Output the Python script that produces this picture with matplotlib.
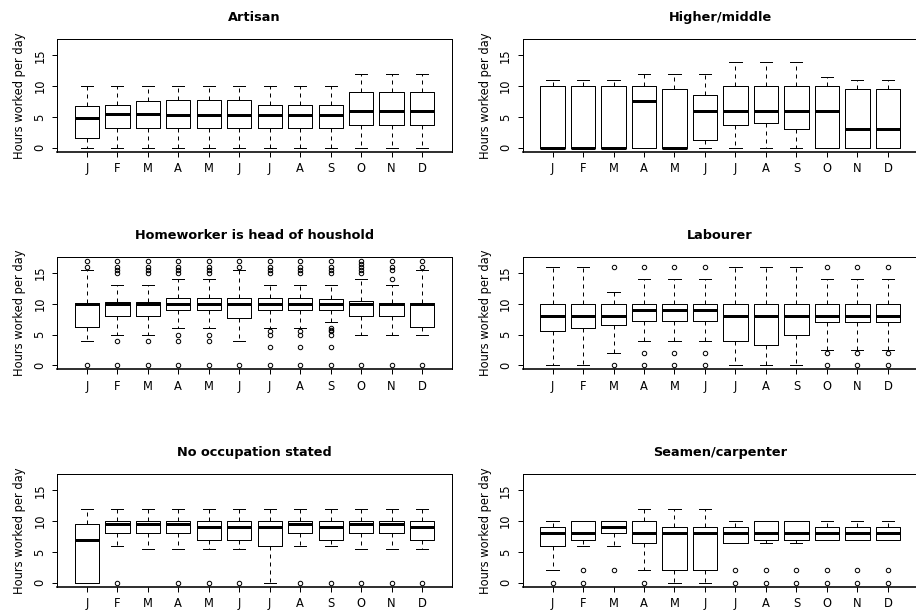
import matplotlib
matplotlib.use("Agg")
import matplotlib.pyplot as plt

plt.rcParams["font.family"] = ["DejaVu Sans"]

months = ["J", "F", "M", "A", "M", "J", "J", "A", "S", "O", "N", "D"]
ylabel = "Hours worked per day"

# ---- Artisan ----
artisan_title = "Artisan"
artisan_lo = [0, 0, 0, 0, 0, 0, 0, 0, 0, 0, 0, 0]
artisan_q1 = [1.5, 3.25, 3.25, 3.25, 3.25, 3.25, 3.25, 3.25, 3.25, 3.75, 3.75, 3.75]
artisan_med = [4.75, 5.5, 5.5, 5.25, 5.25, 5.25, 5.25, 5.25, 5.25, 6, 6, 6]
artisan_q3 = [6.75, 7, 7.5, 7.75, 7.75, 7.75, 7, 7, 7, 9, 9, 9]
artisan_hi = [10, 10, 10, 10, 10, 10, 10, 10, 10, 12, 12, 12]
artisan_out = [[], [], [], [], [], [], [], [], [], [], [], []]

# ---- Higher/middle ----
higher_title = "Higher/middle"
higher_lo = [0, 0, 0, 0, 0, 0, 0, 0, 0, 0, 0, 0]
higher_q1 = [0, 0, 0, 0, 0, 1.25, 3.75, 4, 3, 0, 0, 0]
higher_med = [0, 0, 0, 7.5, 0, 6, 6, 6, 6, 6, 3, 3]
higher_q3 = [10, 10, 10, 10, 9.5, 8.5, 10, 10, 10, 10, 9.5, 9.5]
higher_hi = [11, 11, 11, 12, 12, 12, 14, 14, 14, 11.5, 11, 11]
higher_out = [[], [], [], [], [], [], [], [], [], [], [], []]

# ---- Homeworker is head of household ----
home_title = "Homeworker is head of houshold"
home_lo = [4, 5, 5, 6, 6, 4, 6, 6, 7, 5, 5, 5]
home_q1 = [6.25, 8, 8, 9, 9, 7.75, 9, 9, 9, 8, 8, 6.25]
home_med = [10, 10, 10, 10, 10, 10, 10, 10, 10, 10, 10, 10]
home_q3 = [10.2, 10.25, 10.25, 11, 11, 11, 11, 11, 10.75, 10.5, 10.2, 10.2]
home_hi = [15.5, 13, 13, 14, 14, 15.5, 13, 13, 13, 14, 13, 15.5]
home_out = [
    [0, 16, 17],
    [0, 4, 15, 15.5, 16, 17],
    [0, 4, 15, 15.5, 16, 17],
    [0, 4, 5, 15, 15.5, 16, 17],
    [0, 4, 5, 15, 15.5, 16, 17],
    [0, 16, 17],
    [0, 3, 5, 5.5, 15, 15.5, 16, 17],
    [0, 3, 5, 5.5, 15, 15.5, 16, 17],
    [0, 3, 5, 5.5, 5.75, 6, 15, 15.5, 16, 17],
    [0, 15, 15.5, 16, 16.5, 17],
    [0, 14, 15.5, 16, 17],
    [0, 16, 17],
]

# ---- Labourer ----
lab_title = "Labourer"
lab_lo = [0, 0, 2, 4, 4, 4, 0, 0, 0, 2.5, 2.5, 2.5]
lab_q1 = [5.5, 6, 6.5, 7.25, 7.25, 7.25, 4, 3.25, 5, 7, 7, 7]
lab_med = [8, 8, 8, 9, 9, 9, 8, 8, 8, 8, 8, 8]
lab_q3 = [10, 10, 10, 10, 10, 10, 10, 10, 10, 10, 10, 10]
lab_hi = [16, 16, 12, 14, 14, 14, 16, 16, 16, 14, 14, 14]
lab_out = [[], [], [0, 16], [0, 2, 16], [0, 2, 16], [0, 2, 16],
           [], [], [], [0, 2, 16], [0, 2, 16], [0, 2, 16]]

# ---- No occupation stated ----
noocc_title = "No occupation stated"
noocc_lo = [0, 6, 5.5, 5.5, 5.5, 5.5, 0, 6, 6, 5.5, 5.5, 5.5]
noocc_q1 = [0, 8, 8, 8, 7, 7, 6, 8, 7, 8, 8, 7]
noocc_med = [7, 9.5, 9.5, 9.5, 9, 9, 9, 9.5, 9, 9.5, 9.5, 9]
noocc_q3 = [9.5, 10, 10, 10, 10, 10, 10, 10, 10, 10, 10, 10]
noocc_hi = [12, 12, 12, 12, 12, 12, 12, 12, 12, 12, 12, 12]
noocc_out = [[], [0], [], [0], [0], [0], [], [0], [0], [0], [0], [0]]

# ---- Seamen/carpenter ----
sea_title = "Seamen/carpenter"
sea_lo = [2, 6, 6, 2, 0, 0, 6.5, 6.5, 6.5, 7, 7, 7]
sea_q1 = [6, 7, 8, 6.5, 2, 2, 6.5, 7, 7, 7, 7, 7]
sea_med = [8, 8, 9, 8, 8, 8, 8, 8, 8, 8, 8, 8]
sea_q3 = [9, 10, 10, 10, 9, 9, 9, 10, 10, 9, 9, 9]
sea_hi = [10, 10, 10, 12, 12, 12, 10, 10, 10, 10, 10, 10]
sea_out = [[0], [0, 2], [2], [0], [], [], [0, 2], [0, 2], [0, 2], [0, 2], [0, 2], [0, 2]]

panels = [
    (artisan_title, artisan_lo, artisan_q1, artisan_med, artisan_q3, artisan_hi, artisan_out),
    (higher_title, higher_lo, higher_q1, higher_med, higher_q3, higher_hi, higher_out),
    (home_title, home_lo, home_q1, home_med, home_q3, home_hi, home_out),
    (lab_title, lab_lo, lab_q1, lab_med, lab_q3, lab_hi, lab_out),
    (noocc_title, noocc_lo, noocc_q1, noocc_med, noocc_q3, noocc_hi, noocc_out),
    (sea_title, sea_lo, sea_q1, sea_med, sea_q3, sea_hi, sea_out),
]

W, H = 916, 611
fig = plt.figure(figsize=(W / 100, H / 100), dpi=100)

col_left = [57, 522.7]
row_top = [39, 256.7, 474]
ax_w, ax_h = 395, 112.7

px = 0.72  # one pixel in points
for i, (title, lo, q1, med, q3, hi, out) in enumerate(panels):
    r, c = divmod(i, 2)
    ax = fig.add_axes([col_left[c] / W, 1 - (row_top[r] + ax_h) / H, ax_w / W, ax_h / H])
    stats = []
    for k in range(len(months)):
        stats.append(dict(whislo=lo[k], q1=q1[k], med=med[k], q3=q3[k],
                          whishi=hi[k], fliers=out[k]))
    positions = list(range(1, len(months) + 1))
    ax.bxp(stats, positions=positions, widths=0.8, capwidths=0.4,
           showfliers=True,
           boxprops=dict(color="black", linewidth=px),
           whiskerprops=dict(color="black", linewidth=px, linestyle=(0, (4, 4))),
           capprops=dict(color="black", linewidth=px),
           medianprops=dict(color="black", linewidth=3 * px, solid_capstyle="butt"),
           flierprops=dict(marker="o", markersize=3.2, markerfacecolor="none",
                           markeredgecolor="black", markeredgewidth=px, linestyle="none"))
    ax.set_xlim(0.02, 12.98)
    ax.set_ylim(-0.68, 17.68)
    ax.set_xticks(positions)
    ax.set_xticklabels(months, fontsize=8.3)
    ax.set_yticks([0, 5, 10, 15])
    ax.set_yticklabels(["0", "5", "10", "15"], fontsize=8.3, rotation=90, va="center")
    ax.tick_params(axis="both", direction="out", length=5 * px, width=px, color="black")
    ax.tick_params(axis="x", pad=4)
    ax.tick_params(axis="y", pad=4)
    for name, sp in ax.spines.items():
        sp.set_linewidth(px)
        sp.set_color("black")
    ax.spines["bottom"].set_linewidth(1.6 * px)
    ax.set_ylabel(ylabel, fontsize=8.3, labelpad=5)
    ax.set_title(title, fontsize=9.3, fontweight="bold", pad=13)

fig.savefig("out.png", dpi=100)
